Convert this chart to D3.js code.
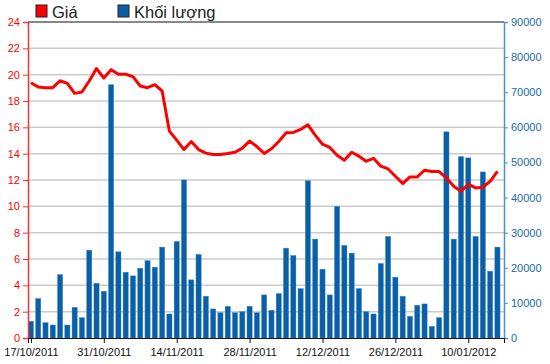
<!DOCTYPE html>
<html>
<head>
<meta charset="utf-8">
<script src="https://cdn.jsdelivr.net/npm/d3@7"></script>
<style>
  body { margin: 0; background: #fff; }
  svg text { font-family: "Liberation Sans", Arial, sans-serif; }
</style>
</head>
<body>
<svg id="canvas"></svg>
<script>
const width = 550;
const height = 364;

// trading-day labels shown on the x axis (every 10th session)
const tickIndex = [0, 10, 20, 30, 40, 50, 60];
const tickLabels = ["17/10/2011", "31/10/2011", "14/11/2011", "28/11/2011", "12/12/2011", "26/12/2011", "10/01/2012"];

// closing price (left axis)
const price = [
    19.39, 19.06, 19.01, 19.01, 19.54, 19.34, 18.58, 18.68, 19.52, 20.46,
    19.75, 20.38, 20.03, 20.03, 19.85, 19.14, 19.01, 19.24, 18.76, 15.71,
    15.03, 14.31, 14.92, 14.31, 14.04, 13.93, 13.93, 14.01, 14.11, 14.42,
    14.95, 14.54, 14.01, 14.37, 14.92, 15.58, 15.61, 15.84, 16.19, 15.41,
    14.72, 14.47, 13.88, 13.50, 14.11, 13.81, 13.43, 13.65, 13.05, 12.84,
    12.28, 11.73, 12.23, 12.23, 12.74, 12.64, 12.64, 12.16, 11.52, 11.14,
    11.68, 11.40, 11.45, 11.90, 12.66
];

// traded volume (right axis)
const volume = [
    4760, 11230, 4380, 3710, 18080, 3700, 8760, 5800, 25030, 15610,
    13320, 72150, 24550, 18750, 17700, 19890, 22050, 20180, 25890, 6850,
    27510, 45010, 16560, 23800, 11900, 8280, 7230, 9040, 7230, 7520,
    9040, 7230, 12280, 7900, 12660, 25600, 23500, 14090, 44810, 28170,
    19600, 12280, 37500, 26370, 24180, 14090, 7520, 6850, 21220, 28940,
    17320, 11900, 6190, 9330, 9710, 3330, 5810, 58720, 28170, 51680,
    51300, 28940, 47300, 19040, 25890
];

const priceTicks = d3.range(0, 25, 2);
const volumeTicks = d3.range(0, 90001, 10000);

const plotLeft = 28, plotRight = 504, plotTop = 22, plotBottom = 338;

const svg = d3.select("#canvas")
    .attr("width", width)
    .attr("height", height);

const x = d3.scaleLinear().domain([-0.4, price.length - 0.1]).range([plotLeft, plotRight]);
const yPrice = d3.scaleLinear().domain([0, 24]).range([plotBottom, plotTop]);
const yVol = d3.scaleLinear().domain([0, 90000]).range([plotBottom, plotTop]);

// grid lines
svg.append("g")
    .selectAll("line")
    .data(priceTicks.filter(d => d > 0 && d < 24))
    .enter()
    .append("line")
    .attr("x1", plotLeft)
    .attr("x2", plotRight)
    .attr("y1", d => yPrice(d))
    .attr("y2", d => yPrice(d))
    .attr("stroke", "#cbcbcb")
    .attr("stroke-width", 1.5);

// top border
svg.append("line")
    .attr("x1", plotLeft).attr("x2", plotRight)
    .attr("y1", plotTop).attr("y2", plotTop)
    .attr("stroke", "#111")
    .attr("stroke-width", 1);

// volume bars
const barW = 5.2;
svg.append("g")
    .selectAll("rect")
    .data(volume)
    .enter()
    .append("rect")
    .attr("x", (d, i) => x(i) - barW / 2)
    .attr("y", d => yVol(d))
    .attr("width", barW)
    .attr("height", d => plotBottom - yVol(d))
    .attr("fill", "#0a5fa6")
    .attr("stroke", "#3d8bd2")
    .attr("stroke-width", 0.4);

// price line
const line = d3.line()
    .x((d, i) => x(i))
    .y(d => yPrice(d));

svg.append("path")
    .datum(price)
    .attr("d", line)
    .attr("fill", "none")
    .attr("stroke", "#ff0000")
    .attr("stroke-width", 3)
    .attr("stroke-linejoin", "round");

// left axis (price)
const leftAxis = svg.append("g")
    .attr("transform", `translate(${plotLeft},0)`)
    .call(d3.axisLeft(yPrice).tickValues(priceTicks).tickSize(5).tickPadding(3));
leftAxis.select(".domain").attr("stroke", "#ff3030").attr("stroke-width", 1.5);
leftAxis.selectAll(".tick line").attr("stroke", "#ff3030");
leftAxis.selectAll("text")
    .attr("fill", "#ff0000")
    .style("font-size", "11px");

// right axis (volume)
const rightAxis = svg.append("g")
    .attr("transform", `translate(${plotRight},0)`)
    .call(d3.axisRight(yVol).tickValues(volumeTicks).tickFormat(d3.format("d")).tickSize(4).tickPadding(3));
rightAxis.select(".domain").attr("stroke", "#4a93c4").attr("stroke-width", 1.5);
rightAxis.selectAll(".tick line").attr("stroke", "#4a93c4");
rightAxis.selectAll("text")
    .attr("fill", "#1c6aa8")
    .style("font-size", "11px");

// bottom axis
const bottomAxis = svg.append("g")
    .attr("transform", `translate(0,${plotBottom})`)
    .call(d3.axisBottom(x)
        .tickValues(tickIndex)
        .tickFormat((d, i) => tickLabels[i])
        .tickSize(5)
        .tickPadding(5));
bottomAxis.select(".domain").attr("stroke", "#111").attr("stroke-width", 1);
bottomAxis.selectAll(".tick line").attr("stroke", "#111");
bottomAxis.selectAll("text")
    .attr("fill", "#111")
    .style("font-size", "11px");

// legend
const legend = [
    { label: "Giá", color: "#ff0000", x: 36 },
    { label: "Khối lượng", color: "#0a5fa6", x: 118 }
];
const lg = svg.append("g")
    .selectAll("g")
    .data(legend)
    .enter()
    .append("g")
    .attr("transform", d => `translate(${d.x},5)`);
lg.append("rect")
    .attr("width", 11)
    .attr("height", 12)
    .attr("fill", d => d.color)
    .attr("stroke", "#222")
    .attr("stroke-width", 1);
lg.append("text")
    .attr("x", 16)
    .attr("y", 12.5)
    .attr("fill", "#222")
    .style("font-size", "16.5px")
    .text(d => d.label);
</script>
</body>
</html>
